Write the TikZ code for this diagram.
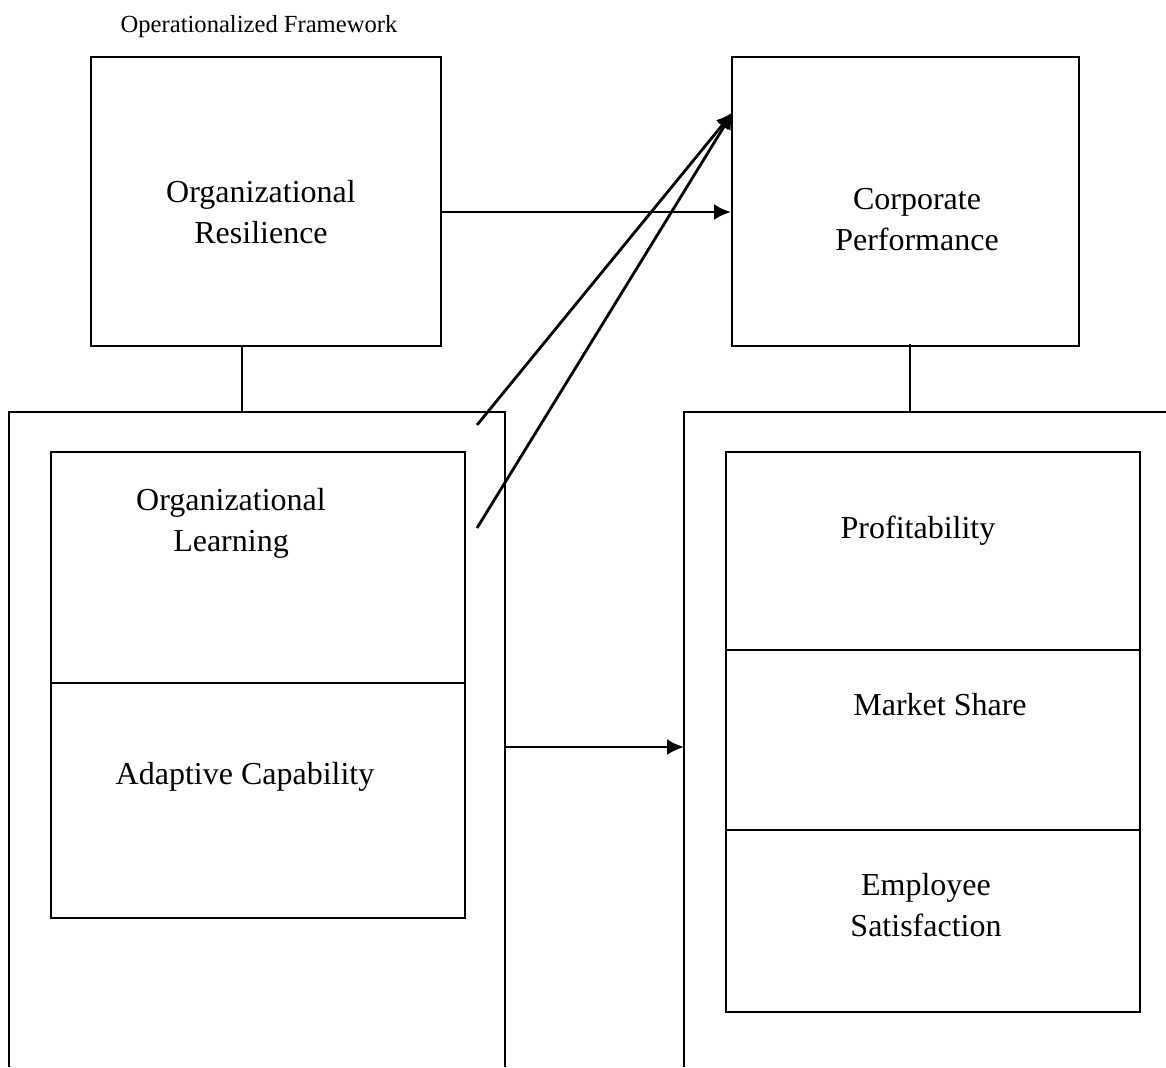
\documentclass[tikz,border=0pt]{standalone}
\usepackage{fontspec}
\setmainfont{Liberation Serif}
\usetikzlibrary{arrows.meta}
\usetikzlibrary{positioning}
\tikzset{box/.style = {draw, line width = 1pt, inner sep = 0, minimum width = 207pt}}
\tikzset{lbl/.style = {align = center, font = \fontsize{16}{20.5}\selectfont}}
\tikzset{arr/.style = {line width = 1.4pt, -{Latex[length = 8.5pt, width = 8pt]}}}

\begin{document}
\begin{tikzpicture}[x=0.5pt, y=-0.5pt, line width=1pt]
    \useasboundingbox (0, 0) rectangle (1166, 1067);
    \node [font = \fontsize{12.3}{14}\selectfont] (title) at (259, 27) {Operationalized Framework};
    % top boxes
    \node [box, minimum width = 175pt, minimum height = 144.5pt] (or) at (266, 201.5) {};
    \node [box, minimum width = 173.5pt, minimum height = 144.5pt] (cp) at (905.5, 201.5) {};
    \node [lbl] (ortxt) at (261, 212) {Organizational\\Resilience};
    \node [lbl] (cptxt) at (917, 220) {Corporate\\Performance};
    % open frames
    \coordinate (lt) at (242, 412);
    \coordinate (rt) at (910, 412);
    \draw (9, 1067) -- (9, 412) -- (505, 412) -- (505, 1067);
    \draw (684, 1067) -- (684, 412) -- (1166, 412);
    \draw (or.south -| lt) -- (lt);
    \draw ([yshift = 1.5pt]cp.south -| rt) -- (rt);
    % left inner boxes
    \node [box, minimum height = 115.5pt] (ol) at (258, 567.5) {};
    \node [box, minimum height = 117.5pt] (ac) at (258, 800.5) {};
    \node [lbl] (oltxt) at (231, 523) {Organizational\\Learning};
    \node [lbl] (actxt) at (245, 777) {Adaptive Capability};
    % right inner boxes
    \node [box, minimum height = 99pt] (pr) at (933, 551) {};
    \node [box, minimum height = 90pt] (ms) at (933, 740) {};
    \node [box, minimum height = 91pt] (es) at (933, 921) {};
    \node [lbl] (prtxt) at (918, 531) {Profitability};
    \node [lbl] (mstxt) at (940, 705) {Market Share};
    \node [lbl] (estxt) at (926, 905) {Employee\\Satisfaction};
    % arrows
    \coordinate (cpin) at (733, 112);
    \coordinate (olout1) at (477, 425);
    \coordinate (olout2) at (477, 528);
    \coordinate (lfout) at (505, 747);
    \coordinate (rfin) at (684, 747);
    \draw [arr] ([yshift = -5.25pt]or.east) -- ([yshift = -5.25pt]cp.west);
    \draw [arr] (olout1) -- (cpin);
    \draw [arr] (olout2) -- (cpin);
    \draw [arr] (lfout) -- (rfin);
\end{tikzpicture}
\end{document}
